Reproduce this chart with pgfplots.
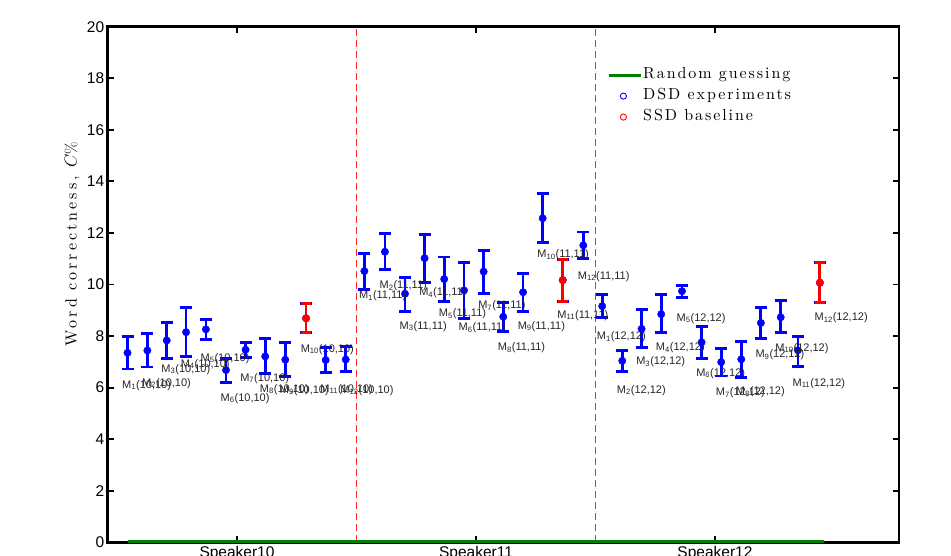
\documentclass[border=0pt]{standalone}
\usepackage{pgfplots}
\pgfplotsset{compat=1.18}
\usepackage{pgfplotstable}
\usepackage{fontspec}
\newfontfamily\arial{Liberation Sans}
\newfontfamily\lmsp{lmroman10-regular.otf}[LetterSpace=12]
\newfontfamily\lmspy{lmroman10-regular.otf}[LetterSpace=19]
\definecolor{mgreen}{rgb}{0,0.5,0}
\definecolor{mblue}{rgb}{0,0,1}
\definecolor{mred}{rgb}{1,0,0}

\pgfplotstableread{
k x y top bot ly
1 0.542 7.35 7.98 6.72 6.09
2 0.625 7.44 8.09 6.80 6.16
3 0.706 7.83 8.53 7.14 6.71
4 0.787 8.15 9.10 7.20 6.90
5 0.870 8.26 8.64 7.87 7.13
6 0.954 6.68 7.13 6.19 5.58
7 1.036 7.47 7.76 7.16 6.36
8 1.118 7.21 7.92 6.55 5.93
9 1.202 7.08 7.76 6.42 5.89
10 1.289 8.69 9.25 8.15 7.48
11 1.371 7.07 7.55 6.59 5.93
12 1.455 7.09 7.59 6.62 5.89
}\spkA

\pgfplotstableread{
k x y top bot ly
1 1.533 10.52 11.21 9.81 9.55
2 1.619 11.27 11.98 10.57 9.96
3 1.703 9.64 10.28 8.95 8.38
4 1.785 11.02 11.95 10.09 9.68
5 1.867 10.21 11.07 9.34 8.86
6 1.950 9.77 10.84 8.67 8.32
7 2.032 10.50 11.32 9.65 9.16
8 2.114 8.75 9.29 8.18 7.55
9 2.197 9.70 10.44 8.94 8.38
10 2.279 12.57 13.53 11.62 11.16
11 2.363 10.17 10.97 9.34 8.80
12 2.449 11.52 12.04 11.00 10.32
}\spkB

\pgfplotstableread{
k x y top bot ly
1 2.528 9.16 9.61 8.71 7.97
2 2.612 7.04 7.45 6.63 5.90
3 2.693 8.28 9.02 7.56 7.00
4 2.775 8.85 9.61 8.13 7.55
5 2.862 9.74 9.95 9.51 8.69
6 2.944 7.76 8.37 7.14 6.55
7 3.026 6.99 7.52 6.45 5.80
8 3.110 7.10 7.79 6.38 5.83
9 3.192 8.51 9.11 7.90 7.28
10 3.275 8.73 9.37 8.13 7.53
11 3.347 7.45 7.97 6.83 6.17
12 3.439 10.07 10.84 9.29 8.71
}\spkC

\pgfplotstableread{
x y top bot
1.289 8.69 9.25 8.15
2.363 10.17 10.97 9.34
3.439 10.07 10.84 9.29
}\ssd

\pgfplotsset{
  errplot/.style 2 args={only marks, mark=*, mark size=3.7pt, color=#1,
    mark options={fill=#1, draw=#1},
    error bars/y dir=both, error bars/y explicit,
    error bars/error bar style={line width=2.8pt, color=#1},
    error bars/error mark options={rotate=90, mark size=#2, line width=2.8pt, color=#1}},
  labplot/.style={draw=none, no markers, nodes near coords={M\textsubscript{\pgfplotspointmeta}(#1)},
    point meta=explicit symbolic,
    every node near coord/.style={anchor=west, xshift=-5.5pt, inner sep=0pt,
      font=\arial\fontsize{11}{13}\selectfont, text=black!85}},
}

\begin{document}
\begin{tikzpicture}
\begin{axis}[
  at={(0,0)}, anchor=south west,
  scale only axis, width=791.3pt, height=515.6pt,
  xmin=0.459, xmax=3.770, ymin=0, ymax=20,
  clip=false,
  xtick={1,2,3}, xticklabels={Speaker10,Speaker11,Speaker12},
  ytick={0,2,4,6,8,10,12,14,16,18,20},
  tick align=inside, major tick length=6pt,
  tick style={line width=1.8pt, black},
  axis line style={line width=2.8pt},
  ticklabel style={font=\arial\fontsize{15.5}{17}\selectfont},
  /pgf/number format/assume math mode=true,
  ylabel={Word correctness, $C\%$},
  ylabel style={font=\lmspy\fontsize{16}{18}\selectfont,
    at={(axis description cs:-0.045,0.578)}, anchor=center},
  legend style={draw=none, fill=none, inner sep=0pt,
    at={(axis description cs:0.631,0.923)}, anchor=north west,
    font=\lmsp\fontsize{16}{18}\selectfont,
    nodes={text height=11pt, text depth=4pt, inner sep=1pt},
    row sep=4pt},
  legend cell align=left,
]
% separators
\addplot[mred!85, line width=0.9pt, dash pattern=on 7pt off 4pt, forget plot] coordinates {(1.5,0) (1.5,20)};
\addplot[mred!85, line width=0.9pt, dash pattern=on 7pt off 4pt, forget plot] coordinates {(2.5,0) (2.5,20)};
% random guessing
\addplot[mgreen, line width=3pt, forget plot] coordinates {(0.544,0.05) (3.456,0.05)};
% DSD experiments
\addplot[errplot={mblue}{6pt}, forget plot] table[x=x, y=y, y error plus expr=\thisrow{top}-\thisrow{y}, y error minus expr=\thisrow{y}-\thisrow{bot}] {\spkA};
\addplot[errplot={mblue}{6pt}, forget plot] table[x=x, y=y, y error plus expr=\thisrow{top}-\thisrow{y}, y error minus expr=\thisrow{y}-\thisrow{bot}] {\spkB};
\addplot[errplot={mblue}{6pt}, forget plot] table[x=x, y=y, y error plus expr=\thisrow{top}-\thisrow{y}, y error minus expr=\thisrow{y}-\thisrow{bot}] {\spkC};
% SSD baseline
\addplot[errplot={mred}{4.8pt}, forget plot] table[x=x, y=y, y error plus expr=\thisrow{top}-\thisrow{y}, y error minus expr=\thisrow{y}-\thisrow{bot}] {\ssd};
% labels
\addplot[labplot={10,10}, forget plot] table[x=x, y=ly, meta=k] {\spkA};
\addplot[labplot={11,11}, forget plot] table[x=x, y=ly, meta=k] {\spkB};
\addplot[labplot={12,12}, forget plot] table[x=x, y=ly, meta=k] {\spkC};
% legend
\addlegendimage{legend image code/.code={\draw[mgreen, line width=3pt] (0pt,0pt) -- (32pt,0pt);}}
\addlegendentry{Random guessing}
\addlegendimage{legend image code/.code={\path[draw=none] (0pt,0pt) -- (32pt,0pt); \draw[mblue, line width=0.9pt] (14.7pt,0pt) circle (3.1pt);}}
\addlegendentry{DSD experiments}
\addlegendimage{legend image code/.code={\path[draw=none] (0pt,0pt) -- (32pt,0pt); \draw[mred, line width=0.9pt] (14.7pt,0pt) circle (3.1pt);}}
\addlegendentry{SSD baseline}
\end{axis}
\pgfresetboundingbox
\path[use as bounding box] (-107.7pt,-13.7pt) rectangle (843.3pt,542.3pt);
\end{tikzpicture}
\end{document}
